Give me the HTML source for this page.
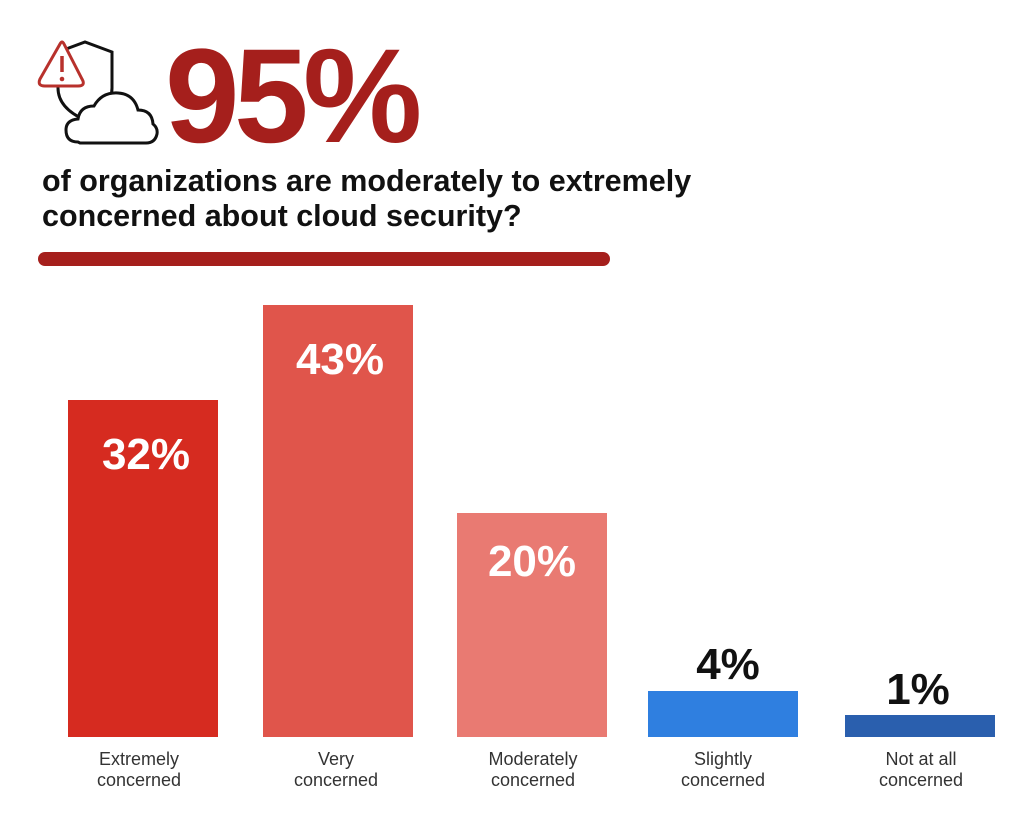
<!DOCTYPE html>
<html><head><style>
body{margin:0;width:1024px;height:824px;background:#fff;font-family:"Liberation Sans",sans-serif;position:relative;overflow:hidden}
.a{position:absolute}
.big{left:165px;top:22px;font-size:134px;font-weight:bold;color:#a51f1c;letter-spacing:-5.5px;line-height:150px}
.t{left:42px;top:164px;font-size:30.5px;font-weight:bold;color:#111;line-height:35px}
.bar{position:absolute;width:150px;bottom:87px}
.v{position:absolute;width:150px;text-align:center;font-weight:bold;font-size:44px;color:#fff;line-height:44px}
.c{position:absolute;width:180px;text-align:center;font-size:18px;color:#333;line-height:21px;top:749px}
</style></head><body>
<svg class="a" style="left:0;top:0" width="170" height="160" viewBox="0 0 170 160">
<path d="M58 52 L85 42 L112 52 L112 88 Q112 108 85 120 Q58 108 58 88 Z" fill="none" stroke="#111" stroke-width="3"/>
<path d="M78 142 Q66 142 66 130 Q66 120 78 119 Q80 106 94 106 Q102 92 118 93 Q134 94 138 110 Q152 110 153 124 Q158 128 157 134 Q155 143 146 143 L80 143 Z" fill="#fff" stroke="#111" stroke-width="3"/>
<path d="M60 44 L40 79 Q37 86 45 86 L78 86 Q86 86 82 79 L64 44 Q62 40 60 44Z" fill="#fff" stroke="#b8312c" stroke-width="3"/>
<line x1="62" y1="56" x2="62" y2="72" stroke="#b8312c" stroke-width="3.5"/>
<circle cx="62" cy="79" r="2.3" fill="#b8312c"/>
</svg>
<div class="a big">95%</div>
<div class="a t">of organizations are moderately to extremely<br>concerned about cloud security?</div>
<div class="a" style="left:38px;top:252px;width:572px;height:14px;border-radius:7px;background:#a51f1c"></div>
<div class="bar" style="left:68px;height:337px;background:#d62b20"></div>
<div class="bar" style="left:263px;height:432px;background:#e0554b"></div>
<div class="bar" style="left:457px;height:224px;background:#e97a72"></div>
<div class="bar" style="left:648px;height:46px;background:#2f7fe0"></div>
<div class="bar" style="left:845px;height:22px;background:#2a5fae"></div>
<div class="v" style="left:71px;top:433px">32%</div>
<div class="v" style="left:265px;top:338px">43%</div>
<div class="v" style="left:457px;top:540px">20%</div>
<div class="v" style="left:653px;top:643px;color:#111">4%</div>
<div class="v" style="left:843px;top:668px;color:#111">1%</div>
<div class="c" style="left:49px">Extremely<br>concerned</div>
<div class="c" style="left:246px">Very<br>concerned</div>
<div class="c" style="left:443px">Moderately<br>concerned</div>
<div class="c" style="left:633px">Slightly<br>concerned</div>
<div class="c" style="left:831px">Not at all<br>concerned</div>
</body></html>
